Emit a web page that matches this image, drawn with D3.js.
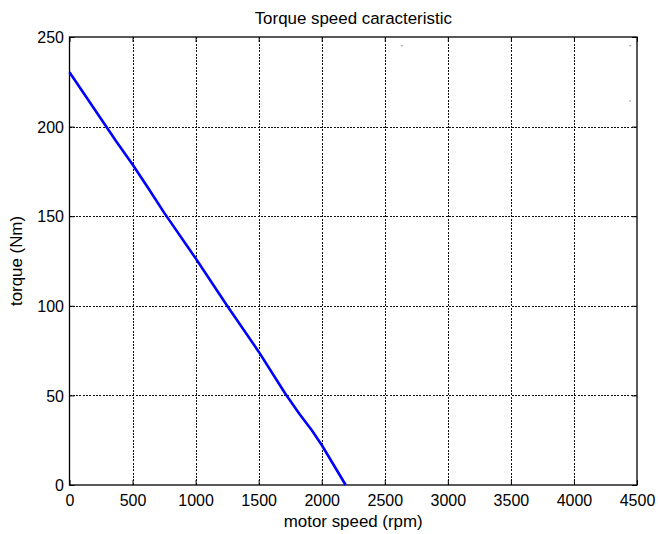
<!DOCTYPE html>
<html>
<head>
<meta charset="utf-8">
<script src="https://cdn.jsdelivr.net/npm/d3@7"></script>
<style>
  html, body { margin: 0; padding: 0; background: #fff; }
  svg { display: block; font-family: "Liberation Sans", Arial, sans-serif; }
</style>
</head>
<body>
<svg id="chart" width="658" height="534"></svg>
<script>
// ---- data ----
const title = "Torque speed caracteristic";
const xLabel = "motor speed (rpm)";
const yLabel = "torque (Nm)";
const xTicks = [0, 500, 1000, 1500, 2000, 2500, 3000, 3500, 4000, 4500];
const yTicks = [0, 50, 100, 150, 200, 250];
const speed  = [0, 370, 500, 625, 750, 1000, 1250, 1500, 1709, 1825, 1920, 2000, 2190];
const torque = [230.3, 191.8, 178.9, 165.6, 152, 126.5, 100, 74.4, 51.2, 39.5, 30.7, 22.3, 0];
const strayX = [2637, 4445, 4445];
const strayY = [245.1, 245.1, 214.3];

// ---- layout ----
const mLeft = 69.5, mRight = 637, mTop = 37, mBottom = 485;
const svg = d3.select("#chart");

const x = d3.scaleLinear().domain([0, 4500]).range([mLeft, mRight]);
const y = d3.scaleLinear().domain([0, 250]).range([mBottom, mTop]);

// grid
const grid = svg.append("g").attr("stroke", "#111").attr("stroke-width", 1)
  .attr("stroke-dasharray", "2,1.3").attr("shape-rendering", "crispEdges");
grid.selectAll("line.gx").data(xTicks.slice(1, -1)).enter().append("line")
  .attr("x1", d => Math.round(x(d)) + 0.5).attr("x2", d => Math.round(x(d)) + 0.5)
  .attr("y1", mTop).attr("y2", mBottom);
grid.selectAll("line.gy").data(yTicks.slice(1, -1)).enter().append("line")
  .attr("y1", d => Math.round(y(d)) + 0.5).attr("y2", d => Math.round(y(d)) + 0.5)
  .attr("x1", mLeft).attr("x2", mRight);

// axes (ticks inward)
const fontSize = 16;
const labelSize = 16.9;
const xAxisB = d3.axisBottom(x).tickValues(xTicks).tickSize(-5).tickPadding(10).tickFormat(d3.format("d"));
const xAxisT = d3.axisTop(x).tickValues(xTicks).tickSize(-5).tickFormat("");
const yAxisL = d3.axisLeft(y).tickValues(yTicks).tickSize(-5).tickPadding(10).tickFormat(d3.format("d"));
const yAxisR = d3.axisRight(y).tickValues(yTicks).tickSize(-5).tickFormat("");

function style(g) {
  g.select(".domain").remove();
  g.selectAll("line").attr("stroke", "#000").attr("stroke-width", 1);
  g.selectAll("text").attr("fill", "#000").style("font-size", fontSize + "px");
  g.attr("font-family", null);
}
svg.append("g").attr("transform", `translate(0,${mBottom})`).call(xAxisB).call(style)
  .selectAll("text").attr("dy", null).attr("y", 21);
svg.append("g").attr("transform", `translate(0,${mTop})`).call(xAxisT).call(style);
svg.append("g").attr("transform", `translate(${mLeft},0)`).call(yAxisL).call(style)
  .selectAll("text").attr("x", -5.5).attr("dy", "0.36em");
svg.append("g").attr("transform", `translate(${mRight},0)`).call(yAxisR).call(style);

// box
svg.append("rect").attr("x", mLeft).attr("y", mTop)
  .attr("width", mRight - mLeft).attr("height", mBottom - mTop)
  .attr("fill", "none").attr("stroke", "#000").attr("stroke-width", 1.3);

// stray points
svg.append("g").selectAll("rect").data(strayX.map((d, i) => [d, strayY[i]])).enter()
  .append("rect").attr("x", d => x(d[0]) - 0.5).attr("y", d => y(d[1]) - 0.5)
  .attr("width", 1).attr("height", 1).attr("fill", "#333");

// curve
const pts = speed.map((d, i) => [d, torque[i]]);
svg.append("path").datum(pts)
  .attr("d", d3.line().x(d => x(d[0])).y(d => y(d[1])))
  .attr("fill", "none").attr("stroke", "#0000ff").attr("stroke-width", 2.6)
  .attr("stroke-linejoin", "round");

// labels
svg.append("text").attr("x", (mLeft + mRight) / 2).attr("y", 24)
  .attr("text-anchor", "middle").style("font-size", labelSize + "px").text(title);
svg.append("text").attr("x", (mLeft + mRight) / 2).attr("y", 527)
  .attr("text-anchor", "middle").style("font-size", labelSize + "px").text(xLabel);
svg.append("text").attr("transform", `translate(22,${(mTop + mBottom) / 2}) rotate(-90)`)
  .attr("text-anchor", "middle").style("font-size", labelSize + "px").text(yLabel);
</script>
</body>
</html>
